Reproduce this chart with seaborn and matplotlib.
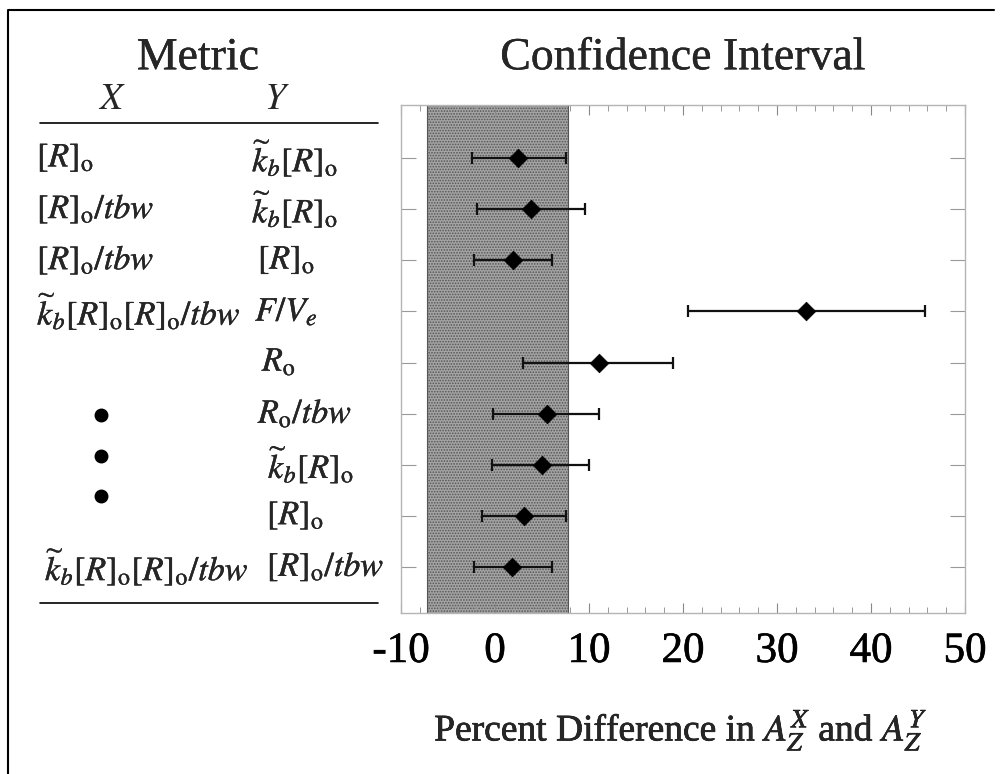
import numpy as np
import pandas as pd
import matplotlib
matplotlib.use("Agg")
import matplotlib.pyplot as plt
import matplotlib.transforms as mtransforms
import matplotlib.patheffects as pe
from matplotlib.lines import Line2D
import seaborn as sns

# Metric pairs (X metric, Y metric), one per confidence interval row
metric_x = [r"$[R]_\mathrm{o}$",
            r"$[R]_\mathrm{o}/tbw$",
            r"$[R]_\mathrm{o}/tbw$",
            r"$\widetilde{k}_b[R]_\mathrm{o}[R]_\mathrm{o}/tbw$",
            "", "", "", "",
            r"$\widetilde{k}_b[R]_\mathrm{o}[R]_\mathrm{o}/tbw$"]
metric_y = [r"$\widetilde{k}_b[R]_\mathrm{o}$",
            r"$\widetilde{k}_b[R]_\mathrm{o}$",
            r"$[R]_\mathrm{o}$",
            r"$F/V_e$",
            r"$R_\mathrm{o}$",
            r"$R_\mathrm{o}/tbw$",
            r"$\widetilde{k}_b[R]_\mathrm{o}$",
            r"$[R]_\mathrm{o}$",
            r"$[R]_\mathrm{o}/tbw$"]

# Percent difference: estimate and confidence interval bounds
estimate = [2.45, 3.8, 1.9, 33.1, 11.1, 5.5, 5.0, 3.1, 1.8]
lower = [-2.45, -1.9, -2.2, 20.5, 3.0, -0.2, -0.3, -1.4, -2.2]
upper = [7.55, 9.6, 6.1, 45.7, 18.9, 11.1, 10.0, 7.6, 6.1]

# shaded band of "no difference"
band = (-7.2, 7.8)

x_ticks = [-10, 0, 10, 20, 30, 40, 50]

df = pd.DataFrame({"row": np.arange(len(estimate)), "est": estimate,
                   "lo": lower, "hi": upper})

sns.set_theme(style="white")
plt.rcParams["font.family"] = ["Liberation Serif", "DejaVu Serif"]
plt.rcParams["mathtext.fontset"] = "stix"
plt.rcParams["hatch.color"] = "#5e5e5e"
plt.rcParams["hatch.linewidth"] = 0.8

# slightly thicker strokes, like the printed original
heavy = [pe.withStroke(linewidth=0.45, foreground="black")]
light = [pe.withStroke(linewidth=0.25, foreground="black")]

fig = plt.figure(figsize=(10.01, 7.74), dpi=100)
ax = fig.add_axes([401 / 1001, 1 - 613 / 774, 564 / 1001, 508 / 774])

# shaded band
ax.axvspan(band[0], band[1], facecolor="#a4a4a4", edgecolor="#555555",
           hatch="......", linewidth=0.8, zorder=0)

# error bars
ax.errorbar(df["est"], df["row"],
            xerr=[df["est"] - df["lo"], df["hi"] - df["est"]],
            fmt="none", ecolor="#111111", elinewidth=1.6,
            capsize=4.0, capthick=1.6, zorder=2)
sns.scatterplot(data=df, x="est", y="row", marker="D", s=90,
                color="black", edgecolor="black", linewidth=0.5,
                zorder=3, ax=ax, legend=False)

ax.set_xlim(-10, 50)
ax.set_ylim(8.9, -1.04)
ax.set_xticks(x_ticks)
ax.set_xticklabels([str(t) for t in x_ticks], fontsize=31)
for lab in ax.get_xticklabels():
    lab.set_path_effects(heavy)
ax.set_xticks(np.arange(-10, 51, 2), minor=True)
ax.set_yticks(df["row"])
ax.set_yticklabels([])
ax.tick_params(axis="x", which="major", direction="in", top=True,
               bottom=True, length=7, width=0.8, color="#888888", pad=14,
               labelcolor="black")
ax.tick_params(axis="x", which="minor", direction="in", top=True,
               bottom=True, length=4, width=0.7, color="#999999")
ax.tick_params(axis="y", which="major", direction="in", left=True,
               right=True, length=11, width=0.8, color="#999999")
for sp in ax.spines.values():
    sp.set_color("#b5b5b5")
    sp.set_linewidth(1.0)
ax.set_xlabel("")
ax.set_ylabel("")
ax.set_facecolor("white")

fig.text(681 / 1001, 1 - 730 / 774,
         r"Percent Difference in $A_Z^X$ and $A_Z^Y$",
         ha="center", va="center", fontsize=27, path_effects=heavy)

# titles
fig.text(198 / 1001, 1 - 58 / 774, "Metric", ha="center", va="center",
         fontsize=33, path_effects=light)
fig.text(683 / 1001, 1 - 58 / 774, "Confidence Interval", ha="center",
         va="center", fontsize=33, path_effects=light)
fig.text(112 / 1001, 1 - 100 / 774, "$X$", ha="center", va="center",
         fontsize=27)
fig.text(277 / 1001, 1 - 100 / 774, "$Y$", ha="center", va="center",
         fontsize=27)

# table rules
for ypx in (123, 603):
    fig.add_artist(Line2D([40 / 1001, 378 / 1001], [1 - ypx / 774] * 2,
                          color="black", lw=1.2, transform=fig.transFigure))

# table entries, aligned with the interval rows
trans = mtransforms.blended_transform_factory(fig.transFigure, ax.transData)
x_left_px = [37, 37, 37, 37, 37, 37, 37, 37, 45]
y_left_px = [252, 252, 258, 255, 262, 258, 268, 267, 267]
for i in range(len(metric_y)):
    if metric_x[i]:
        ax.text(x_left_px[i] / 1001, i, metric_x[i], transform=trans,
                ha="left", va="center", fontsize=24.5, clip_on=False,
                path_effects=light)
    ax.text(y_left_px[i] / 1001, i, metric_y[i], transform=trans,
            ha="left", va="center", fontsize=24.5, clip_on=False,
            path_effects=light)
for yd in (5.03, 5.83, 6.61):
    ax.plot([101 / 1001], [yd], marker="o", ms=9, color="black",
            transform=trans, clip_on=False)

# outer frame
fig.add_artist(Line2D([8 / 1001, 8 / 1001, 994 / 1001],
                      [0, 1 - 10 / 774, 1 - 10 / 774],
                      color="black", lw=1.5, transform=fig.transFigure))

fig.savefig("out.png", dpi=100)
